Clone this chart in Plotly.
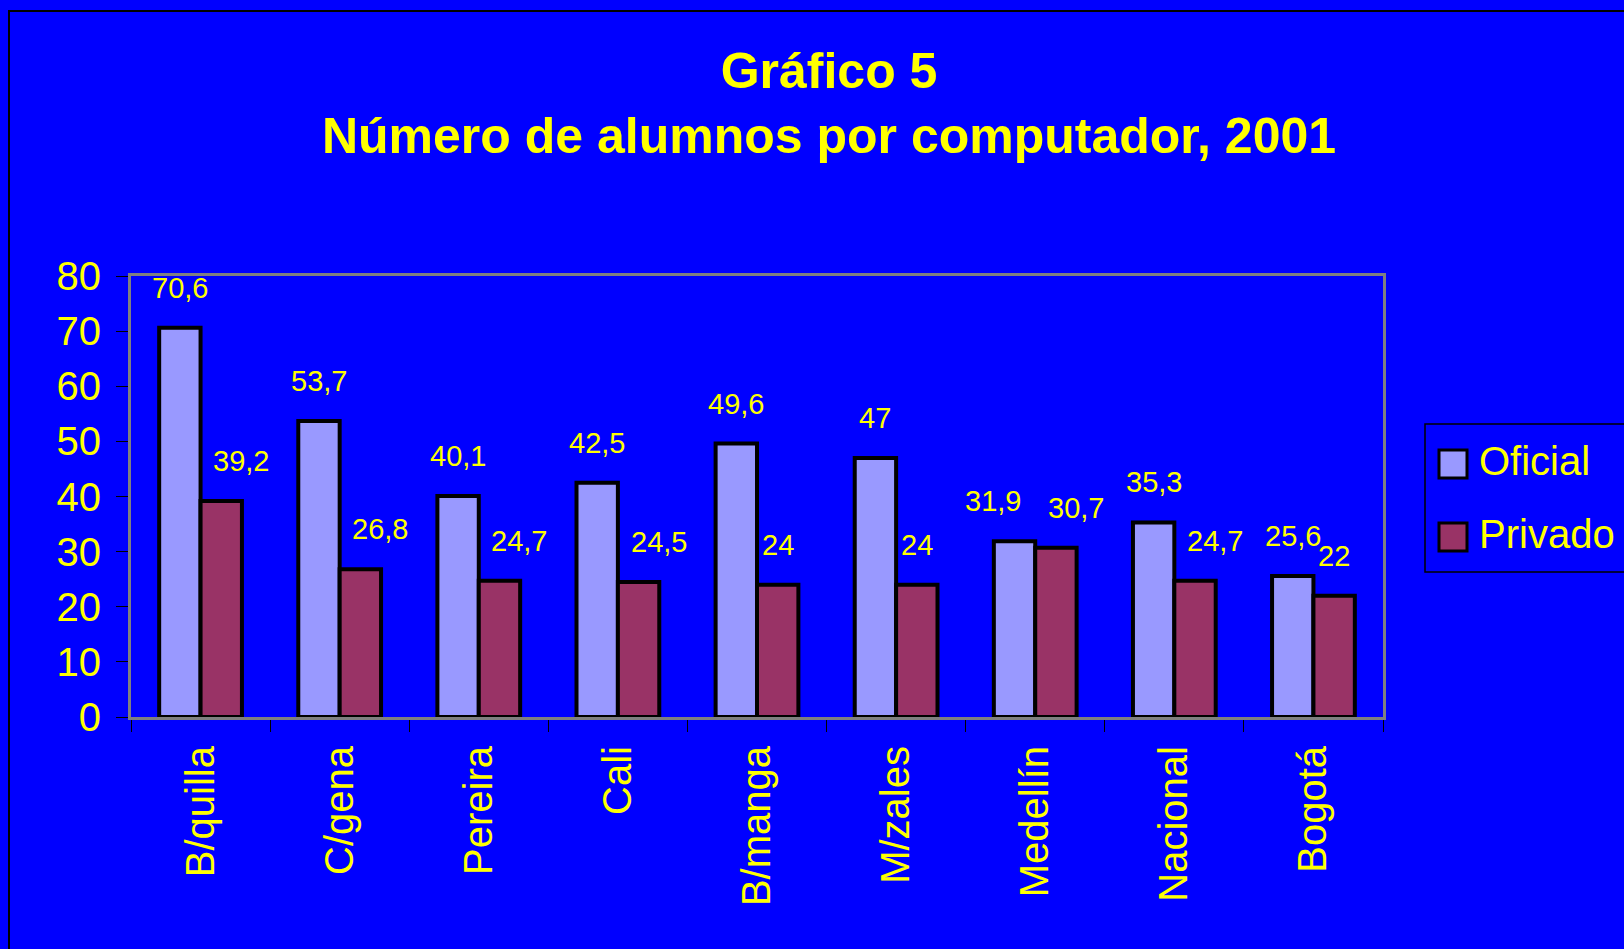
import plotly.graph_objects as go

categories = ["B/quilla", "C/gena", "Pereira", "Cali", "B/manga", "M/zales", "Medellín", "Nacional", "Bogotá"]
oficial = [70.6, 53.7, 40.1, 42.5, 49.6, 47, 31.9, 35.3, 25.6]
privado = [39.2, 26.8, 24.7, 24.5, 24, 24, 30.7, 24.7, 22]
series_names = ["Oficial", "Privado"]
y_ticks = [0, 10, 20, 30, 40, 50, 60, 70, 80]

COL_OF = "#9999FF"
COL_PR = "#993366"
BG = "#0000FF"
YEL = "#FFFF00"
FONT = "Arial, Liberation Sans, sans-serif"

W, H = 1624, 949
# plot area in pixels
L, R, T, B = 131, 1383, 276, 717


def px_x(sx):
    return (sx - L) / (R - L)


def px_y(sy):
    return (B - sy) / (B - T)


def fmt(v):
    return ("%g" % v).replace(".", ",")


fig = go.Figure()
for name, vals, col in [(series_names[0], oficial, COL_OF), (series_names[1], privado, COL_PR)]:
    fig.add_trace(go.Bar(
        x=categories, y=vals, name=name,
        marker=dict(color=col, line=dict(color="black", width=4)),
        showlegend=False,
    ))

half = (1 - 0.405) / 4  # bar center offset in category units
annotations = []
for i, (vo, vp) in enumerate(zip(oficial, privado)):
    xs_o = -22 if categories[i] == "Medellín" else 0
    annotations.append(dict(x=i - half, y=vo, xref="x", yref="y", text=fmt(vo),
                            showarrow=False, yanchor="middle", yshift=40, xshift=xs_o,
                            font=dict(family=FONT, size=29, color=YEL)))
    xs_p = 20 if "," in fmt(vp) else 0
    annotations.append(dict(x=i + half, y=vp, xref="x", yref="y", text=fmt(vp),
                            showarrow=False, yanchor="middle", yshift=40, xshift=xs_p,
                            font=dict(family=FONT, size=29, color=YEL)))

shapes = [
    # outer chart border
    dict(type="rect", xref="paper", yref="paper", x0=px_x(9), x1=px_x(1680), y0=px_y(1000), y1=px_y(11),
         line=dict(color="black", width=2), fillcolor="rgba(0,0,0,0)", layer="below"),
    # legend box
    dict(type="rect", xref="paper", yref="paper", x0=px_x(1425), x1=px_x(1680), y0=px_y(572), y1=px_y(424),
         line=dict(color="black", width=1.5), fillcolor=BG),
]
for k, (col, cy) in enumerate([(COL_OF, 464), (COL_PR, 537)]):
    shapes.append(dict(type="rect", xref="paper", yref="paper",
                       x0=px_x(1439), x1=px_x(1467), y0=px_y(cy + 14), y1=px_y(cy - 14),
                       line=dict(color="black", width=3), fillcolor=col))
    annotations.append(dict(x=px_x(1477), y=px_y(cy - 3), xref="paper", yref="paper",
                            text=series_names[k], showarrow=False, xanchor="left", yanchor="middle",
                            font=dict(family=FONT, size=40, color=YEL)))

fig.update_layout(
    width=W, height=H,
    paper_bgcolor=BG, plot_bgcolor=BG,
    margin=dict(l=L, r=W - R, t=T, b=H - B, pad=0),
    barmode="group", bargap=0.405, bargroupgap=0,
    title=dict(text="<b>Gráfico 5<br>Número de alumnos por computador, 2001</b>",
               x=829 / W, xanchor="center", xref="container",
               y=1 - 88 / H, yanchor="top", yref="container",
               font=dict(family=FONT, size=50, color=YEL)),
    font=dict(family=FONT, color=YEL),
    annotations=annotations,
    shapes=shapes,
    showlegend=False,
)
fig.update_xaxes(
    type="category", range=[-0.5, len(categories) - 0.5],
    showline=True, linecolor="#808080", linewidth=3, mirror=True,
    ticks="outside", tickson="boundaries", ticklen=12, tickcolor="black", tickwidth=1,
    tickangle=-90, tickfont=dict(family=FONT, size=40, color=YEL),
    ticklabelstandoff=10, showgrid=False, zeroline=False,
)
fig.update_yaxes(
    range=[0, 80], tickvals=y_ticks,
    showline=True, linecolor="#808080", linewidth=3, mirror=True,
    ticks="outside", ticklen=12, tickcolor="black", tickwidth=1,
    tickfont=dict(family=FONT, size=40, color=YEL), ticklabelstandoff=7,
    showgrid=False, zeroline=False,
)

fig.write_html(
    "out.html",
    config={"displayModeBar": False},
    post_script="document.body.style.margin='0';document.body.style.overflow='hidden';"
                "document.body.style.background='#0000FF';",
)
